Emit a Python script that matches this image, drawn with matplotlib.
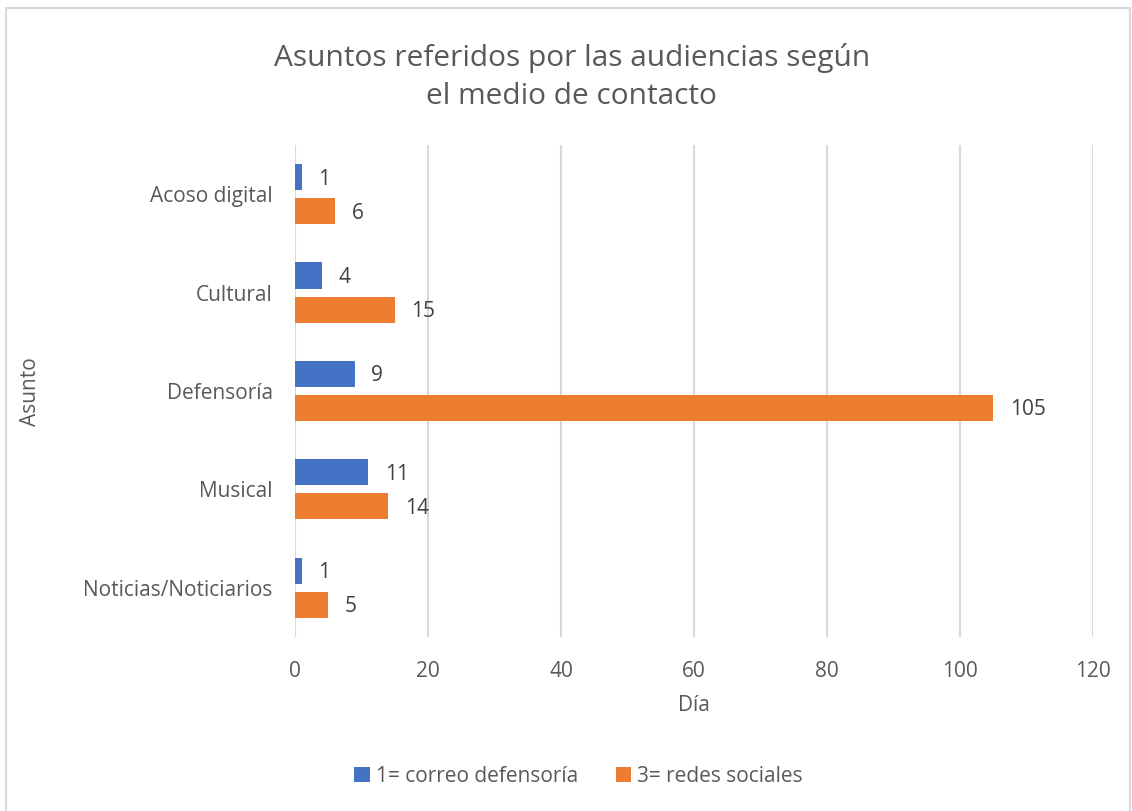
import matplotlib.pyplot as plt
from matplotlib.patches import Rectangle
import numpy as np

# data
categories = ["Acoso digital", "Cultural", "Defensoría", "Musical", "Noticias/Noticiarios"]
correo = [1, 4, 9, 11, 1]
redes = [6, 15, 105, 14, 5]
series_names = ["1= correo defensoría", "3= redes sociales"]

blue = "#4472C4"
orange = "#ED7D31"
txt = "#595959"

plt.rcParams['font.family'] = ['Open Sans', 'DejaVu Sans']

fig = plt.figure(figsize=(11.32, 8.11), dpi=100)
ax = fig.add_axes([0.2606, 0.2146, 0.705, 0.6067])

y = np.arange(len(categories))
h = 0.265
off = 0.173
b1 = ax.barh(y - off, correo, height=h, color=blue, label=series_names[0], zorder=3)
b2 = ax.barh(y + off, redes, height=h, color=orange, label=series_names[1], zorder=3)

for bars, vals in ((b1, correo), (b2, redes)):
    for bar, v in zip(bars, vals):
        ax.text(bar.get_width() + 2.5, bar.get_y() + bar.get_height() / 2 + 0.02, str(v),
                va='center', ha='left', fontsize=15, color="#404040")

ax.set_xlim(0, 120)
ax.set_ylim(len(categories) - 0.5, -0.5)
ax.set_xticks(np.arange(0, 121, 20))
ax.set_yticks(y)
ax.set_yticklabels(categories)
ax.tick_params(axis='both', length=0, labelsize=15, labelcolor=txt)
ax.tick_params(axis='x', pad=17)
ax.tick_params(axis='y', pad=16)
ax.grid(axis='x', color="#D9D9D9", linewidth=1.5, zorder=0)
for s in ax.spines.values():
    s.set_visible(False)
ax.axvline(0, color="#D9D9D9", linewidth=1.5, zorder=1)

ax.set_xlabel("Día", fontsize=15, color=txt, labelpad=10)
fig.text(0.027, 0.517, "Asunto", rotation=90, fontsize=15, color=txt, ha='center', va='center')

fig.text(0.505, 0.905, "Asuntos referidos por las audiencias según\nel medio de contacto",
         ha='center', va='center', fontsize=21.5, color=txt, linespacing=1.45)

fig.legend(handles=[b1, b2], loc='center', bbox_to_anchor=(0.511, 0.043), ncol=2,
           frameon=False, fontsize=15, labelcolor=txt, handlelength=0.75, handleheight=0.75,
           handletextpad=0.3, columnspacing=1.8)

fig.add_artist(Rectangle((0.005, -0.01), 0.993, 1.0, transform=fig.transFigure,
                         fill=False, edgecolor="#D9D9D9", linewidth=1.5))

fig.savefig("out.png", dpi=100)
